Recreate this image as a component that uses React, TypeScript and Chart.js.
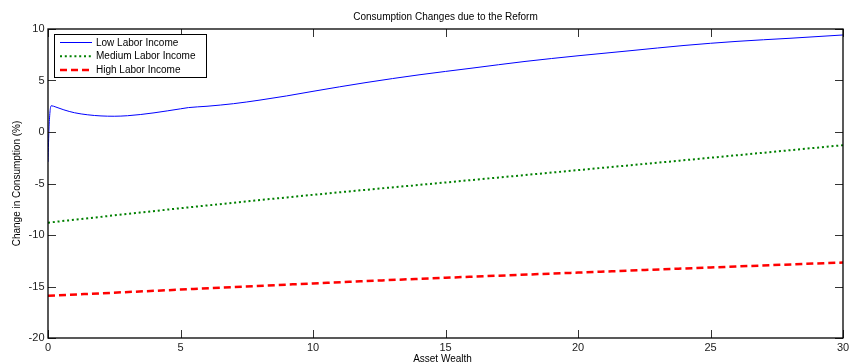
import React, { useEffect, useRef } from "react";
import { Chart, registerables } from "chart.js";

Chart.register(...registerables);

// Asset wealth grid and consumption change (%) per labor-income group
const lowX = [0, 0.04, 0.12, 0.3, 0.6, 1.0, 1.5, 2.0, 2.5, 3.0, 3.5, 4.0, 4.5, 5.0, 5.3, 6, 7, 8, 9, 10, 12, 14, 16, 18, 20, 22, 24, 26, 28, 30];
const lowIncome = [-2.9, 0.5, 2.55, 2.42, 2.15, 1.87, 1.67, 1.56, 1.53, 1.58, 1.7, 1.86, 2.05, 2.25, 2.37, 2.5, 2.75, 3.1, 3.5, 3.95, 4.8, 5.55, 6.2, 6.85, 7.4, 7.9, 8.4, 8.8, 9.1, 9.42];

const midX = [0, 5, 10, 15, 20, 25, 30];
const mediumIncome = [-8.8, -7.4, -6.1, -4.9, -3.7, -2.5, -1.28];

const highX = [0, 5, 10, 15, 20, 25, 30];
const highIncome = [-15.9, -15.3, -14.7, -14.15, -13.65, -13.15, -12.67];

const seriesNames = ["Low Labor Income", "Medium Labor Income", "High Labor Income"];
const xTicks = [0, 5, 10, 15, 20, 25, 30];
const yTicks = [-20, -15, -10, -5, 0, 5, 10];

const titleText = "Consumption Changes due to the Reform";
const xTitle = "Asset Wealth";
const yTitle = "Change in Consumption (%)";

const FONT = "Liberation Sans, Arial, Helvetica, sans-serif";

const toPoints = (xs: number[], ys: number[]) => xs.map((x, i) => ({ x, y: ys[i] }));

const framePlugin = {
  id: "frame",
  afterDraw(chart: any) {
    const { ctx, chartArea } = chart;
    const { left, right, top, bottom } = chartArea;
    const xs = chart.scales.x;
    const ys = chart.scales.y;
    ctx.save();

    // inward tick marks on all four sides
    ctx.strokeStyle = "#333";
    ctx.lineWidth = 1;
    const tl = 8;
    ctx.beginPath();
    xTicks.forEach((v) => {
      const px = Math.round(xs.getPixelForValue(v)) + 0.5;
      ctx.moveTo(px, bottom);
      ctx.lineTo(px, bottom - tl);
      ctx.moveTo(px, top);
      ctx.lineTo(px, top + tl);
    });
    yTicks.forEach((v) => {
      const py = Math.round(ys.getPixelForValue(v)) + 0.5;
      ctx.moveTo(left, py);
      ctx.lineTo(left + tl, py);
      ctx.moveTo(right, py);
      ctx.lineTo(right - tl, py);
    });
    ctx.stroke();

    // axes box
    ctx.strokeStyle = "#000";
    ctx.lineWidth = 1.3;
    ctx.strokeRect(left, top, right - left, bottom - top);

    // tick labels
    ctx.fillStyle = "#222";
    ctx.font = `11px ${FONT}`;
    ctx.textBaseline = "middle";
    ctx.textAlign = "center";
    xTicks.forEach((v) => {
      ctx.fillText(String(v), xs.getPixelForValue(v), bottom + 9.5);
    });
    ctx.textAlign = "right";
    yTicks.forEach((v) => {
      ctx.fillText(String(v), left - 3.5, ys.getPixelForValue(v));
    });

    // titles
    ctx.fillStyle = "#000";
    ctx.font = `10px ${FONT}`;
    ctx.textAlign = "center";
    ctx.fillText(titleText, (left + right) / 2, 17);
    ctx.fillText(xTitle, (left + right) / 2 - 3, 359);
    ctx.save();
    ctx.translate(17, (top + bottom) / 2);
    ctx.rotate(-Math.PI / 2);
    ctx.fillText(yTitle, 0, 0);
    ctx.restore();

    // legend box in the upper-left corner
    const bx = left + 6;
    const by = top + 5;
    const bw = 152;
    const bh = 43;
    ctx.fillStyle = "#fff";
    ctx.fillRect(bx, by, bw, bh);
    ctx.strokeStyle = "#000";
    ctx.lineWidth = 1;
    ctx.strokeRect(bx + 0.5, by + 0.5, bw, bh);
    ctx.font = `10px ${FONT}`;
    ctx.textAlign = "left";
    chart.data.datasets.forEach((ds: any, i: number) => {
      const ry = by + 8.5 + i * 13.7;
      ctx.save();
      ctx.strokeStyle = ds.borderColor;
      ctx.lineWidth = ds.borderWidth;
      ctx.setLineDash(ds.borderDash || []);
      ctx.beginPath();
      ctx.moveTo(bx + 6, ry);
      ctx.lineTo(bx + 38, ry);
      ctx.stroke();
      ctx.restore();
      ctx.fillStyle = "#000";
      ctx.fillText(ds.label, bx + 42, ry + 0.5);
    });

    ctx.restore();
  },
};

export default function App() {
  const ref = useRef<HTMLCanvasElement | null>(null);

  useEffect(() => {
    document.body.style.margin = "0";
    const canvas = ref.current;
    if (!canvas) return;
    const chart = new Chart(canvas, {
      type: "line",
      data: {
        datasets: [
          {
            label: seriesNames[0],
            data: toPoints(lowX, lowIncome),
            borderColor: "#0000ff",
            borderWidth: 1,
            pointRadius: 0,
            cubicInterpolationMode: "monotone",
          },
          {
            label: seriesNames[1],
            data: toPoints(midX, mediumIncome),
            borderColor: "#008000",
            borderWidth: 2,
            borderDash: [2, 2.8],
            pointRadius: 0,
            cubicInterpolationMode: "monotone",
          },
          {
            label: seriesNames[2],
            data: toPoints(highX, highIncome),
            borderColor: "#ff0000",
            borderWidth: 2.5,
            borderDash: [7, 4],
            pointRadius: 0,
            cubicInterpolationMode: "monotone",
          },
        ],
      },
      options: {
        responsive: false,
        animation: false,
        devicePixelRatio: 1,
        layout: { padding: { top: 29, right: 7, left: 0, bottom: 0 } },
        plugins: {
          legend: { display: false },
          title: { display: false },
          tooltip: { enabled: false },
        },
        scales: {
          x: {
            type: "linear",
            min: 0,
            max: 30,
            ticks: { stepSize: 5, display: false },
            grid: { display: false },
            border: { display: false },
            afterFit: (s: any) => {
              s.height = 26;
            },
          },
          y: {
            type: "linear",
            min: -20,
            max: 10,
            ticks: { stepSize: 5, display: false },
            grid: { display: false },
            border: { display: false },
            afterFit: (s: any) => {
              s.width = 48;
            },
          },
        },
      },
      plugins: [framePlugin],
    } as any);
    return () => chart.destroy();
  }, []);

  return <canvas ref={ref} width={850} height={364} style={{ display: "block" }} />;
}
